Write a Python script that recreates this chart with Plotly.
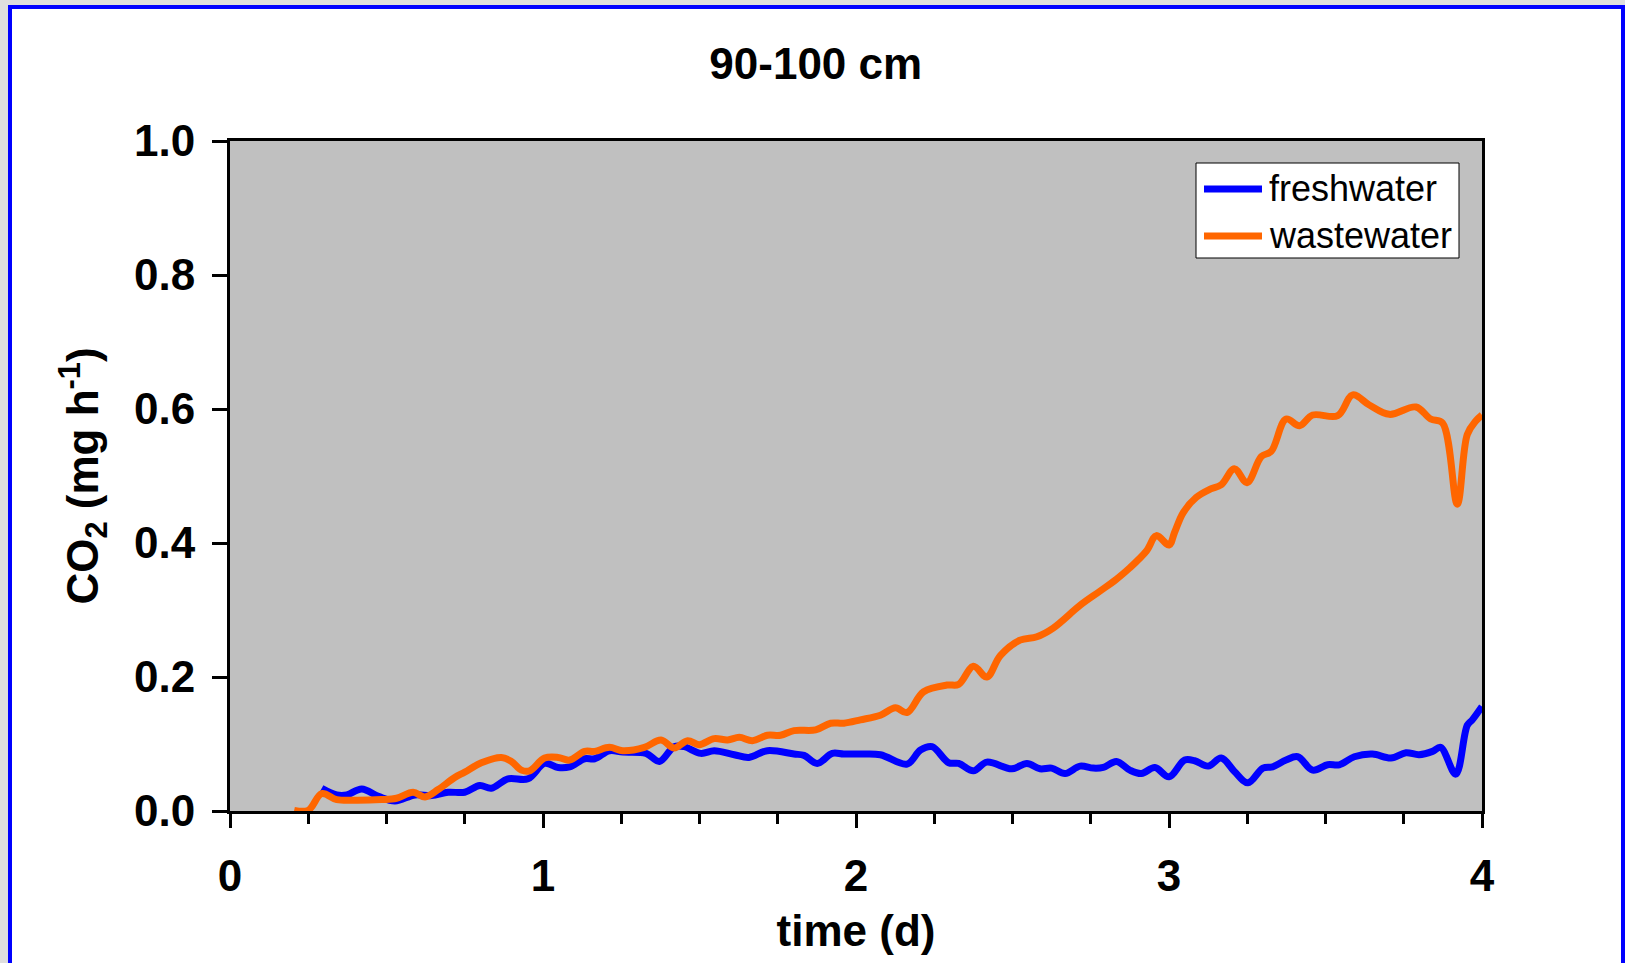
import plotly.graph_objects as go

# CO2 release at 90-100 cm depth, sampled over four days
fresh_t = [0.293, 0.341, 0.373, 0.421, 0.474, 0.527, 0.591, 0.644, 0.697, 0.75,
           0.798, 0.835, 0.888, 0.952, 1.005, 1.048, 1.085, 1.133, 1.165, 1.212,
           1.255, 1.329, 1.372, 1.419, 1.451, 1.504, 1.547, 1.611, 1.658, 1.717,
           1.802, 1.834, 1.876, 1.924, 1.961, 2.014, 2.078, 2.163, 2.206, 2.243,
           2.296, 2.328, 2.375, 2.418, 2.498, 2.546, 2.588, 2.625, 2.668, 2.716,
           2.758, 2.790, 2.832, 2.875, 2.912, 2.955, 3.000, 3.050, 3.082, 3.125,
           3.167, 3.209, 3.252, 3.300, 3.331, 3.374, 3.411, 3.459, 3.507, 3.544,
           3.592, 3.650, 3.709, 3.757, 3.799, 3.842, 3.868, 3.916, 3.953, 3.969,
           4.0]
fresh_co2 = [0.034, 0.024, 0.024, 0.033, 0.022, 0.015, 0.024, 0.023, 0.028, 0.028,
             0.038, 0.034, 0.048, 0.048, 0.071, 0.065, 0.066, 0.078, 0.078, 0.090,
             0.088, 0.086, 0.074, 0.096, 0.096, 0.086, 0.090, 0.084, 0.080, 0.090,
             0.085, 0.083, 0.071, 0.086, 0.085, 0.085, 0.084, 0.070, 0.091, 0.096,
             0.072, 0.071, 0.060, 0.073, 0.063, 0.071, 0.063, 0.064, 0.056, 0.067,
             0.064, 0.065, 0.074, 0.061, 0.056, 0.065, 0.051, 0.076, 0.075, 0.067,
             0.079, 0.059, 0.042, 0.064, 0.066, 0.076, 0.081, 0.061, 0.069, 0.069,
             0.081, 0.085, 0.079, 0.087, 0.084, 0.089, 0.095, 0.055, 0.128, 0.136,
             0.156]

waste_t = [0.205, 0.25, 0.293, 0.341, 0.40, 0.484, 0.532, 0.585, 0.623, 0.665,
           0.718, 0.75, 0.803, 0.867, 0.899, 0.931, 0.957, 1.005, 1.048, 1.085,
           1.133, 1.165, 1.212, 1.255, 1.324, 1.377, 1.419, 1.462, 1.499, 1.547,
           1.590, 1.627, 1.669, 1.717, 1.759, 1.802, 1.871, 1.919, 1.961, 2.014,
           2.078, 2.126, 2.163, 2.216, 2.291, 2.328, 2.375, 2.418, 2.461, 2.524,
           2.578, 2.630, 2.716, 2.779, 2.832, 2.875, 2.928, 2.960, 3.000, 3.018,
           3.045, 3.087, 3.130, 3.167, 3.209, 3.249, 3.295, 3.327, 3.374, 3.417,
           3.459, 3.539, 3.587, 3.640, 3.704, 3.789, 3.836, 3.874, 3.921, 3.953,
           3.98, 4.0]
waste_co2 = [0.001, 0.001, 0.026, 0.017, 0.016, 0.017, 0.019, 0.028, 0.021, 0.032,
             0.050, 0.058, 0.072, 0.080, 0.074, 0.061, 0.060, 0.079, 0.080, 0.076,
             0.089, 0.089, 0.095, 0.090, 0.095, 0.106, 0.094, 0.105, 0.099, 0.108,
             0.106, 0.110, 0.105, 0.113, 0.113, 0.120, 0.121, 0.131, 0.131, 0.136,
             0.143, 0.154, 0.147, 0.178, 0.188, 0.189, 0.216, 0.200, 0.232, 0.255,
             0.260, 0.273, 0.307, 0.328, 0.346, 0.363, 0.388, 0.411, 0.397, 0.416,
             0.445, 0.468, 0.480, 0.487, 0.511, 0.490, 0.529, 0.537, 0.585, 0.575,
             0.591, 0.590, 0.621, 0.606, 0.592, 0.603, 0.585, 0.579, 0.458, 0.562,
             0.582, 0.591]

series_names = ["freshwater", "wastewater"]
series_colors = ["#0000ff", "#ff6600"]

x_ticks = [0, 1, 2, 3, 4]
y_ticks = [0.0, 0.2, 0.4, 0.6, 0.8, 1.0]

W, H = 1625, 963
L, R, T, B = 230, 1482, 141, 811   # plot area in pixels
PW, PH = R - L, B - T

def px(x):
    return (x - L) / PW

def py(y):
    return (B - y) / PH

FONT = "Liberation Sans, Arial, sans-serif"

fig = go.Figure()
for t, v, name, color in zip([fresh_t, waste_t], [fresh_co2, waste_co2],
                             series_names, series_colors):
    fig.add_trace(go.Scatter(
        x=t, y=v, name=name, mode="lines", showlegend=False,
        line=dict(color=color, width=7, shape="spline", smoothing=1.0),
    ))

# white card with blue frame, then the grey plotting area on top of it
fig.add_shape(type="rect", xref="paper", yref="paper", layer="below",
              x0=px(10), x1=px(1623), y0=py(1010), y1=py(7),
              fillcolor="white", line=dict(color="#0000ff", width=4))
fig.add_shape(type="rect", xref="x domain", yref="y domain", layer="below",
              x0=0, x1=1, y0=0, y1=1, fillcolor="#c0c0c0", line=dict(width=0))

# legend box: white panel, line samples and labels
leg_x0, leg_x1, leg_y0, leg_y1 = 1196, 1459, 163, 258
row_y = [189, 236]
fig.add_shape(type="rect", xref="paper", yref="paper", layer="above",
              x0=px(leg_x0), x1=px(leg_x1), y0=py(leg_y1), y1=py(leg_y0),
              fillcolor="white", line=dict(color="black", width=1))
for ry, name, color in zip(row_y, series_names, series_colors):
    fig.add_shape(type="line", xref="paper", yref="paper", layer="above",
                  x0=px(1204), x1=px(1262), y0=py(ry), y1=py(ry),
                  line=dict(color=color, width=7))
    fig.add_annotation(x=px(1267), y=py(ry), xref="paper", yref="paper",
                       text=name, showarrow=False, xanchor="left",
                       yanchor="middle",
                       font=dict(family=FONT, size=36, color="black"))

axis_common = dict(
    showgrid=False, zeroline=False, showline=True, linecolor="black",
    linewidth=3, mirror=True, ticks="outside", tickcolor="black", tickwidth=3,
    tickfont=dict(family=FONT, size=44, color="black", weight="bold"),
)

fig.update_xaxes(
    range=[0, 4], tickvals=x_ticks, ticklen=14, ticklabelstandoff=10,
    minor=dict(dtick=0.25, ticks="outside", ticklen=10, tickwidth=3,
               tickcolor="black", showgrid=False),
    title=dict(text="time (d)", standoff=17,
               font=dict(family=FONT, size=44, color="black", weight="bold")),
    **axis_common,
)
fig.update_yaxes(
    range=[0, 1], tickvals=y_ticks, tickformat=".1f", ticklen=15,
    ticklabelstandoff=8,
    title=dict(text="CO<sub>2</sub> (mg h<sup>-1</sup>)", standoff=22,
               font=dict(family=FONT, size=44, color="black", weight="bold")),
    **axis_common,
)

fig.update_layout(
    width=W, height=H,
    margin=dict(l=L, r=W - R, t=T, b=H - B, pad=0),
    paper_bgcolor="#dedede", plot_bgcolor="#c0c0c0",
    title=dict(text="90-100 cm", x=0.502, xref="container", xanchor="center",
               y=1 - 64 / H, yref="container", yanchor="middle",
               font=dict(family=FONT, size=44, color="black", weight="bold")),
    showlegend=False,
)

fig.write_html("out.html")
